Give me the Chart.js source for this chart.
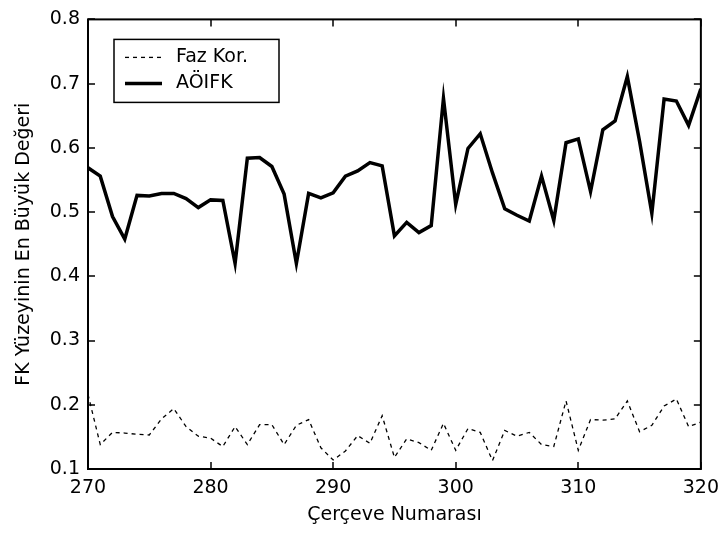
<!DOCTYPE html>
<html>
<head>
<meta charset="utf-8">
<script src="https://cdn.jsdelivr.net/npm/chart.js@4.4.0/dist/chart.umd.min.js"></script>
<style>
  html, body { margin: 0; padding: 0; background: #fff; }
</style>
</head>
<body>
<canvas id="fkChart" width="727" height="537"></canvas>
<script>
// frame numbers (x axis)
const frames = [270, 271, 272, 273, 274, 275, 276, 277, 278, 279,
  280, 281, 282, 283, 284, 285, 286, 287, 288, 289,
  290, 291, 292, 293, 294, 295, 296, 297, 298, 299,
  300, 301, 302, 303, 304, 305, 306, 307, 308, 309,
  310, 311, 312, 313, 314, 315, 316, 317, 318, 319, 320];

// "Faz Kor." - dashed line
const fazKor = [0.216, 0.138, 0.157, 0.156, 0.154, 0.153, 0.178, 0.194, 0.166, 0.151,
  0.148, 0.135, 0.166, 0.138, 0.169, 0.169, 0.138, 0.168, 0.177, 0.133,
  0.114, 0.128, 0.152, 0.140, 0.183, 0.118, 0.147, 0.141, 0.129, 0.171,
  0.129, 0.163, 0.157, 0.113, 0.160, 0.151, 0.157, 0.138, 0.135, 0.206,
  0.129, 0.177, 0.176, 0.178, 0.206, 0.158, 0.168, 0.198, 0.209, 0.166, 0.173];

// "AÖIFK" - solid line
const aoifk = [0.569, 0.556, 0.493, 0.458, 0.526, 0.525, 0.529, 0.529, 0.521, 0.507,
  0.519, 0.518, 0.420, 0.584, 0.585, 0.571, 0.528, 0.420, 0.529, 0.522,
  0.530, 0.556, 0.564, 0.577, 0.572, 0.463, 0.484, 0.468, 0.479, 0.677,
  0.512, 0.599, 0.622, 0.561, 0.505, 0.495, 0.486, 0.556, 0.487, 0.608,
  0.614, 0.532, 0.628, 0.642, 0.711, 0.610, 0.498, 0.676, 0.673, 0.635, 0.692];

const xTicks = [270, 280, 290, 300, 310, 320];
const yTicks = [0.1, 0.2, 0.3, 0.4, 0.5, 0.6, 0.7, 0.8];

const FONT = { family: "'DejaVu Sans', sans-serif", size: 19 };

// box around the plot with inward ticks on all four sides (matlab look)
const frameTicks = {
  id: "frameTicks",
  afterDatasetsDraw(chart) {
    const { ctx, chartArea: a, scales } = chart;
    const len = 7;
    ctx.save();
    ctx.strokeStyle = "#000";
    ctx.lineWidth = 2;
    ctx.strokeRect(a.left, a.top, a.right - a.left, a.bottom - a.top);
    ctx.beginPath();
    xTicks.forEach(function (v) {
      const px = Math.round(scales.x.getPixelForValue(v));
      ctx.moveTo(px, a.bottom); ctx.lineTo(px, a.bottom - len);
      ctx.moveTo(px, a.top); ctx.lineTo(px, a.top + len);
    });
    yTicks.forEach(function (v) {
      const py = Math.round(scales.y.getPixelForValue(v));
      ctx.moveTo(a.left, py); ctx.lineTo(a.left + len, py);
      ctx.moveTo(a.right, py); ctx.lineTo(a.right - len, py);
    });
    ctx.lineWidth = 1.5;
    ctx.stroke();
    ctx.restore();
  }
};

// legend box inside the plot, upper left
const boxLegend = {
  id: "boxLegend",
  afterDraw(chart) {
    const ctx = chart.ctx;
    const a = chart.chartArea;
    const bx = a.left + 26, by = a.top + 20, bw = 165, bh = 63;
    ctx.save();
    ctx.fillStyle = "#fff";
    ctx.fillRect(bx, by, bw, bh);
    ctx.strokeStyle = "#000";
    ctx.lineWidth = 1.5;
    ctx.strokeRect(bx, by, bw, bh);
    ctx.font = FONT.size + "px " + FONT.family;
    ctx.textBaseline = "middle";
    chart.data.datasets.forEach(function (ds, i) {
      const ly = by + 18 + i * 26;
      ctx.beginPath();
      ctx.setLineDash(ds.borderDash || []);
      ctx.lineWidth = ds.borderWidth;
      ctx.strokeStyle = ds.borderColor;
      ctx.moveTo(bx + 11, ly);
      ctx.lineTo(bx + 48, ly);
      ctx.stroke();
      ctx.setLineDash([]);
      ctx.fillStyle = "#000";
      ctx.fillText(ds.label, bx + 62, ly);
    });
    ctx.restore();
  }
};

const ctx = document.getElementById("fkChart").getContext("2d");
new Chart(ctx, {
  type: "line",
  data: {
    datasets: [
      {
        label: "Faz Kor.",
        data: frames.map(function (f, i) { return { x: f, y: fazKor[i] }; }),
        borderColor: "#000",
        borderWidth: 1.3,
        borderDash: [4, 4],
        pointRadius: 0,
        tension: 0,
        fill: false
      },
      {
        label: "AÖIFK",
        data: frames.map(function (f, i) { return { x: f, y: aoifk[i] }; }),
        borderColor: "#000",
        borderWidth: 3.5,
        pointRadius: 0,
        tension: 0,
        fill: false
      }
    ]
  },
  options: {
    responsive: false,
    animation: false,
    layout: { padding: { top: 9, right: 19, left: 0, bottom: 0 } },
    plugins: {
      legend: { display: false },
      tooltip: { enabled: false }
    },
    scales: {
      x: {
        type: "linear",
        min: 270,
        max: 320,
        afterBuildTicks: function (s) { s.ticks = xTicks.map(function (v) { return { value: v }; }); },
        afterFit: function (s) { s.height = 68; },
        grid: { display: false, drawTicks: false },
        border: { display: false },
        ticks: { color: "#000", font: FONT, padding: 8, maxRotation: 0,
          callback: function (v) { return String(v); } },
        title: { display: true, text: "Çerçeve Numarası", color: "#000", font: FONT,
          padding: { top: 0, bottom: 11 } }
      },
      y: {
        min: 0.1,
        max: 0.8,
        afterBuildTicks: function (s) { s.ticks = yTicks.map(function (v) { return { value: v }; }); },
        afterFit: function (s) { s.width = 88; },
        grid: { display: false, drawTicks: false },
        border: { display: false },
        ticks: { color: "#000", font: FONT, padding: 8,
          callback: function (v) { return v.toFixed(1); } },
        title: { display: true, text: "FK Yüzeyinin En Büyük Değeri", color: "#000", font: FONT,
          padding: { top: 13, bottom: 0 } }
      }
    }
  },
  plugins: [frameTicks, boxLegend]
});
</script>
</body>
</html>
